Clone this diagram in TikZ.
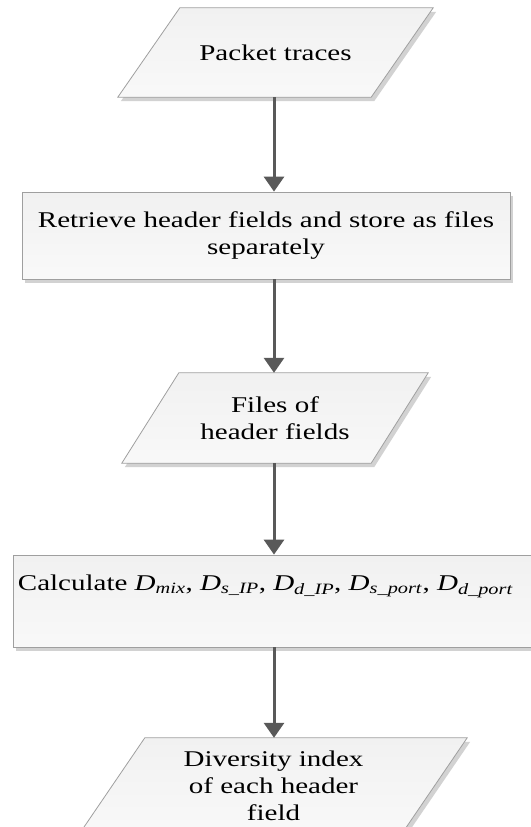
\documentclass[tikz,border=0pt]{standalone}
\usepackage{fontspec}
\setmainfont[FakeStretch=1.29]{Liberation Serif}
\usetikzlibrary{arrows.meta,shadows}
\pgfdeclarelayer{background}
\pgfsetlayers{background,main}

\tikzset{
  outline/.style={
    draw=gray!75, line width=0.8pt,
    top color=gray!11, middle color=white, bottom color=gray!5,
    drop shadow={shadow xshift=3pt, shadow yshift=-4pt, fill=gray!35, opacity=1}
  },
  chartshape/.style={
    rectangle, align=center, inner sep=0pt,
    font=\fontsize{22.5}{27}\selectfont
  },
  procbox/.style={chartshape, outline},
  iobox/.style={chartshape},
  flow/.style={draw=gray!70!black, line width=3pt,
    -{Triangle[width=20pt,length=15pt]}}
}

% parallelogram behind an iobox node: #1 = node name, #2 = horizontal slant
\newcommand\ioshape[2]{%
  \begin{pgfonlayer}{background}
    \path[outline] ([xshift=#2]#1.north west) -- (#1.north east)
      -- ([xshift=-#2]#1.south east) -- (#1.south west) -- cycle;
  \end{pgfonlayer}}

\begin{document}
\begin{tikzpicture}[x=1pt,y=-1pt]
  \useasboundingbox (0,0) rectangle (530,827);

  % vertical line on which all connectors run
  \coordinate (axis) at (274,0);

  \node[iobox, minimum width=315pt, minimum height=89pt] (traces) at (275.5,52.5)
    {Packet traces};
  \ioshape{traces}{62pt}

  \node[procbox, minimum width=488pt, minimum height=87pt] (retrieve) at (266,235.5)
    {Retrieve header fields and store as files\\separately};

  \node[iobox, minimum width=306pt, minimum height=90pt] (files) at (275,418)
    {Files of\\header fields};
  \ioshape{files}{57pt}

  \node[procbox, minimum width=532pt, minimum height=92pt] (calc) at (279,601)
    {\raisebox{15pt}[\height][\depth]{Calculate
      \textit{D}\textsubscript{\textit{mix}},
      \textit{D}\textsubscript{\textit{s\_IP}},
      \textit{D}\textsubscript{\textit{d\_IP}},
      \textit{D}\textsubscript{\textit{s\_port}},
      \textit{D}\textsubscript{\textit{d\_port}}}\hspace*{27pt}};

  \node[iobox, minimum width=387pt, minimum height=95pt] (index) at (273.5,785.5)
    {Diversity index\\of each header\\field};
  \ioshape{index}{65pt}

  \draw[flow] (traces.south -| axis) -- (retrieve.north -| axis);
  \draw[flow] (retrieve.south -| axis) -- (files.north -| axis);
  \draw[flow] (files.south -| axis) -- (calc.north -| axis);
  \draw[flow] (calc.south -| axis) -- (index.north -| axis);
\end{tikzpicture}
\end{document}
